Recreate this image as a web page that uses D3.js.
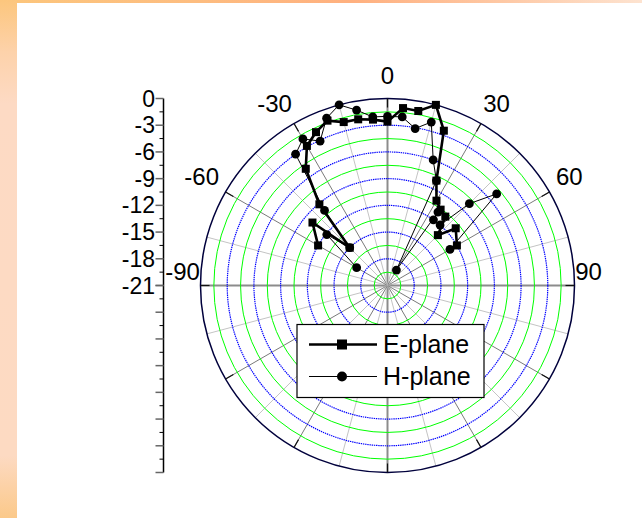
<!DOCTYPE html>
<html><head><meta charset="utf-8">
<script src="https://cdn.jsdelivr.net/npm/d3@7"></script>
<style>html,body{margin:0;padding:0;background:#fff;overflow:hidden}</style>
</head><body><svg id="c" width="642" height="518"></svg>
<script>
// ---- data (angle in degrees, value in dB) ----
const eAngles = [-60,-50,-45,-40,-35,-30,-25,-20,-15,-10,-5,0,5,10,15,20,25,30,35,40,45,50,60];
const eValues = [-12.0,-10.0,-15.0,-9.1,-5.0,-2.9,-2.0,-1.3,-2.0,-2.05,-2.3,-2.6,-1.0,-1.1,0.0,-2.5,-8.0,-10.0,-10.6,-10.9,-13.0,-11.0,-12.0];
const hAngles = [-60,-50,-45,-40,-35,-30,-25,-20,-15,-10,-5,0,5,10,15,20,25,30,34.5,35,41,45,50,60];
const hValues = [-17.0,-12.1,-15.0,-10.0,-3.0,-2.0,-3.1,-1.0,0.0,-1.0,-2.0,-2.0,-2.0,-3.1,-2.0,-6.0,-8.0,-19.0,-11.0,-12.0,-12.0,-8.0,-5.0,-12.9];
const seriesNames = ["E-plane","H-plane"];
const angleTickLabels = [-90,-60,-30,0,30,60,90];
const radialTickLabels = [0,-3,-6,-9,-12,-15,-18,-21];

const cx = 387.5, cy = 285.5, R = 187;
const svg = d3.select('#c');
const FONT = '"Liberation Sans", Arial, sans-serif';

// ---- background strips ----
const defs = svg.append('defs');
const gl = defs.append('linearGradient').attr('id','gl').attr('x1',0).attr('y1',0).attr('x2',0).attr('y2',1);
[[0,'#fcc67d'],[0.1,'#fdd2aa'],[0.2,'#fddac4'],[0.88,'#fddac2'],[1,'#fbc98a']].forEach(s=>gl.append('stop').attr('offset',s[0]).attr('stop-color',s[1]));
const gt = defs.append('linearGradient').attr('id','gt').attr('x1',0).attr('y1',0).attr('x2',1).attr('y2',0);
[[0,'#fcc67c'],[0.3,'#fdbd80'],[0.55,'#ffb07f'],[0.78,'#fec8a4'],[1,'#fde3d0']].forEach(s=>gt.append('stop').attr('offset',s[0]).attr('stop-color',s[1]));
svg.append('rect').attr('x',0).attr('y',0).attr('width',642).attr('height',518).attr('fill','#fff');
svg.append('rect').attr('x',0).attr('y',0).attr('width',642).attr('height',3).attr('fill','url(#gt)');
svg.append('rect').attr('x',0).attr('y',0).attr('width',17).attr('height',518).attr('fill','url(#gl)');

// ---- scales ----
const r = d3.scaleLinear().domain([-21, 0]).range([0, R]);
const ang = d3.scaleLinear().domain([0, 360]).range([0, 2*Math.PI]);
const g = svg.append('g').attr('transform', `translate(${cx},${cy})`);

// spokes
const spokes = d3.range(0, 360, 15);
g.selectAll('line.spoke').data(spokes).join('line')
  .attr('x1',0).attr('y1',0)
  .attr('x2', d => R*Math.sin(ang(d))).attr('y2', d => -R*Math.cos(ang(d)))
  .attr('stroke', d => d%90===0 ? '#8c8c8c' : d%30===0 ? '#7a7a7a' : '#c4c4c4')
  .attr('stroke-width', d => d%90===0 ? 2 : 1);

// grid circles
const gridVals = d3.range(1, 14).map(k => -21 + 1.5*k);
g.selectAll('circle.grid').data(gridVals).join('circle')
  .attr('r', d => r(d)).attr('fill','none')
  .attr('stroke', (d,i) => i%2===0 ? '#00ff00' : '#0000ff')
  .attr('stroke-width', (d,i) => i%2===0 ? 1 : 1.2)
  .attr('stroke-dasharray', (d,i) => i%2===0 ? null : '1.4,0.8');
g.append('circle').attr('r', r(0)).attr('fill','none').attr('stroke','#00003c').attr('stroke-width',1.5);

// outer ticks
g.selectAll('line.otick').data(d3.range(0,360,30)).join('line')
  .attr('x1', d => (R-9)*Math.sin(ang(d))).attr('y1', d => -(R-9)*Math.cos(ang(d)))
  .attr('x2', d => R*Math.sin(ang(d))).attr('y2', d => -R*Math.cos(ang(d)))
  .attr('stroke','#111').attr('stroke-width',1.2);

// ---- series ----
const eData = eAngles.map((a,i)=>({a, v:eValues[i]}));
const hData = hAngles.map((a,i)=>({a, v:hValues[i]}));
const line = d3.lineRadial().angle(d => ang(d.a)).radius(d => r(d.v));
const px = d => r(d.v)*Math.sin(ang(d.a)), py = d => -r(d.v)*Math.cos(ang(d.a));

g.append('path').attr('d', line(hData)).attr('fill','none').attr('stroke','#000').attr('stroke-width',1);
g.append('path').attr('d', line(eData)).attr('fill','none').attr('stroke','#000').attr('stroke-width',2.6);
g.selectAll('rect.em').data(eData).join('rect')
  .attr('x', d => px(d)-4).attr('y', d => py(d)-4).attr('width',8).attr('height',8).attr('fill','#000');
g.selectAll('circle.hm').data(hData).join('circle')
  .attr('cx', px).attr('cy', py).attr('r',4.4).attr('fill','#000');

// ---- angular labels ----
const AF = 24;
const tmp = svg.append('text').attr('font-family',FONT).attr('font-size',AF);
const labOff = {"-90":[9,-14],"-60":[0,-4],"-30":[-4,0],"0":[0,0],"30":[4,0],"60":[0,-4],"90":[-9,-14]};
angleTickLabels.forEach(a => {
  const rr = R + 23;
  const o = labOff[String(a)];
  const x = cx + rr*Math.sin(ang(a)) + o[0];
  const y = cy - rr*Math.cos(ang(a)) + o[1];
  tmp.text(String(Math.abs(a)));
  const w = tmp.node().getComputedTextLength();
  svg.append('text').attr('x', x + w/2).attr('y', y).attr('dy','0.35em')
    .attr('text-anchor','end').attr('font-family',FONT).attr('font-size',AF).attr('fill','#000')
    .text(String(a));
});
tmp.remove();

// ---- radial axis on the left ----
const axX = 163.5;
const yUp = d3.scaleLinear().domain([-21, 0]).range([cy, cy - R]);
const yDn = d3.scaleLinear().domain([-21, 0]).range([cy, cy + R]);
const ax = svg.append('g').attr('transform', `translate(${axX},0)`);
ax.append('line').attr('x1',0).attr('x2',0).attr('y1',yUp(0)).attr('y2',yDn(0)).attr('stroke','#000').attr('stroke-width',1.5);
const minorVals = d3.range(0,14).map(k => -19.5 + 3*k).filter(v => v < 0);
[yUp, yDn].forEach((sc, idx) => {
  ax.selectAll(null).data(radialTickLabels).join('line')
    .attr('x1',-8).attr('x2',0).attr('y1', d => sc(d)).attr('y2', d => sc(d))
    .attr('stroke','#666').attr('stroke-width',1.5);
  ax.selectAll(null).data(minorVals).join('line')
    .attr('x1',-4).attr('x2',0).attr('y1', d => sc(d)).attr('y2', d => sc(d))
    .attr('stroke','#000').attr('stroke-width',1);
});
ax.selectAll('text').data(radialTickLabels).join('text')
  .attr('x', -8.5).attr('y', d => yUp(d)).attr('dy','0.35em')
  .attr('text-anchor','end').attr('font-family',FONT).attr('font-size',23).attr('fill','#000')
  .text(d => String(d));

// ---- legend ----
const lg = svg.append('g').attr('transform','translate(297,324.5)');
lg.append('rect').attr('width',187).attr('height',73).attr('fill','#fff').attr('stroke','#000').attr('stroke-width',1.2);
seriesNames.forEach((name,i) => {
  const y = 20 + i*32;
  lg.append('line').attr('x1',12).attr('x2',80).attr('y1',y).attr('y2',y).attr('stroke','#000').attr('stroke-width', i===0?2.6:1);
  if (i===0) lg.append('rect').attr('x',40).attr('y',y-5).attr('width',10).attr('height',10).attr('fill','#000');
  else lg.append('circle').attr('cx',45).attr('cy',y).attr('r',5).attr('fill','#000');
  lg.append('text').attr('x',86).attr('y',y).attr('dy','0.35em').attr('font-family',FONT).attr('font-size',25).attr('fill','#000').text(name);
});
</script></body></html>
